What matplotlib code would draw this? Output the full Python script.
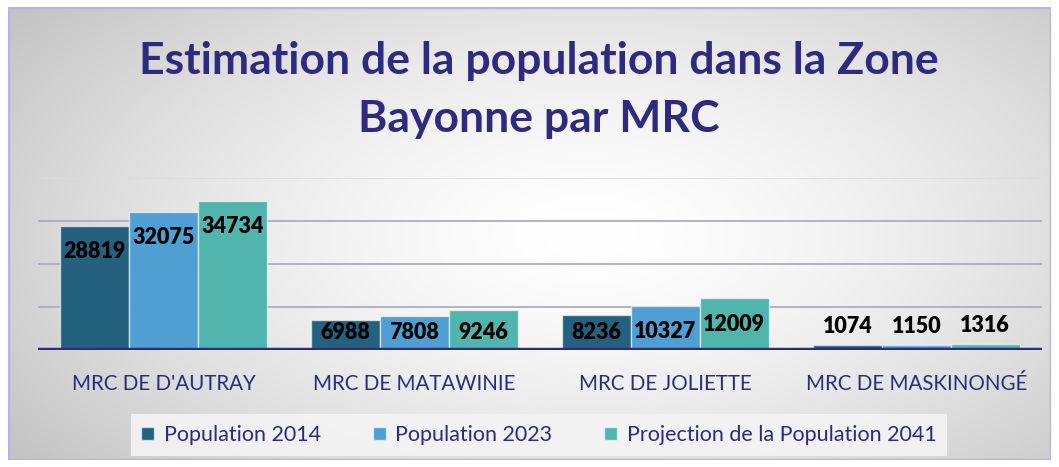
import numpy as np
import matplotlib.pyplot as plt
from matplotlib.patches import Rectangle

categories = ["MRC DE D'AUTRAY", "MRC DE MATAWINIE", "MRC DE JOLIETTE", "MRC DE MASKINONGÉ"]
pop_2014 = [28819, 6988, 8236, 1074]
pop_2023 = [32075, 7808, 10327, 1150]
proj_2041 = [34734, 9246, 12009, 1316]
series_names = ["Population 2014", "Population 2023", "Projection de la Population 2041"]

navy = "#2e2a80"
colors = ["#23617f", "#4f9fd3", "#50b6ad"]

plt.rcParams['font.family'] = ['Lato', 'DejaVu Sans']

W, H = 1059, 467
fig = plt.figure(figsize=(W / 100, H / 100), dpi=100, facecolor="white")

# background with radial gradient and lavender border
bg = fig.add_axes([8 / W, 7 / H, (1051 - 8) / W, (460 - 7) / H])
yy, xx = np.mgrid[0:300, 0:700]
cx, cy = 390, 150
r = np.sqrt(((xx - cx) / 500.0) ** 2 + ((yy - cy) / 260.0) ** 2)
shade = 1.0 - 0.25 * np.clip(r, 0, 1.3) ** 1.5
shade = np.clip(shade, 0.76, 1.0)
bg.imshow(np.dstack([shade, shade, shade]), aspect="auto", extent=[0, 1, 0, 1])
bg.add_patch(Rectangle((0, 0), 1, 1, transform=bg.transAxes, fill=False,
                       edgecolor="#b4b4e8", lw=2.5))
bg.set_axis_off()

ax = fig.add_axes([38 / W, (H - 350) / H, 1004 / W, 172 / H])
ax.patch.set_alpha(0)

x = np.arange(len(categories))
bw = 0.274
for i, (vals, col, name) in enumerate(zip([pop_2014, pop_2023, proj_2041], colors, series_names)):
    pos = x + (i - 1) * bw
    ax.bar(pos, vals, width=bw, color=col, edgecolor=(1, 1, 1, 0.6), lw=1, label=name, zorder=3)
    for px, v in zip(pos, vals):
        if v < 3000:
            ly = v + 4400
        else:
            ly = max(v - 6000, 4000)
        ax.text(px, ly, str(v), ha="center", va="center", fontsize=15.5,
                fontweight="heavy", color="black", zorder=4)

ax.set_xlim(-0.5, 3.5)
ax.set_ylim(0, 40000)
for g in [10000, 20000, 30000]:
    ax.axhline(g, color="#a8a8b8", lw=1.2, zorder=1)
ax.axhline(40000, color="#dcdcdc", lw=1.2, zorder=1)
ax.axhline(0, color=navy, lw=3.2, zorder=5)

for s in ax.spines.values():
    s.set_visible(False)
ax.set_yticks([])
ax.set_xticks(x)
ax.set_xticklabels(categories, fontsize=14.8, color=navy)
ax.tick_params(axis="x", length=0, pad=17)

fig.text(539 / W, (H - 90) / H, "Estimation de la population dans la Zone\nBayonne par MRC",
         ha="center", va="center", fontsize=32, fontweight="bold", color=navy, linespacing=1.55)

leg = fig.legend(loc="center", bbox_to_anchor=(539 / W, (H - 435) / H), ncol=3,
                 frameon=True, fancybox=False, fontsize=15.5, handlelength=0.6,
                 handleheight=0.6, handletextpad=0.45, columnspacing=2.4,
                 borderpad=0.5, borderaxespad=0)
leg.get_frame().set_facecolor("#f4f4f4")
leg.get_frame().set_edgecolor("none")
leg.get_frame().set_alpha(0.9)
for t in leg.get_texts():
    t.set_color(navy)

fig.savefig("out.png", dpi=100)
